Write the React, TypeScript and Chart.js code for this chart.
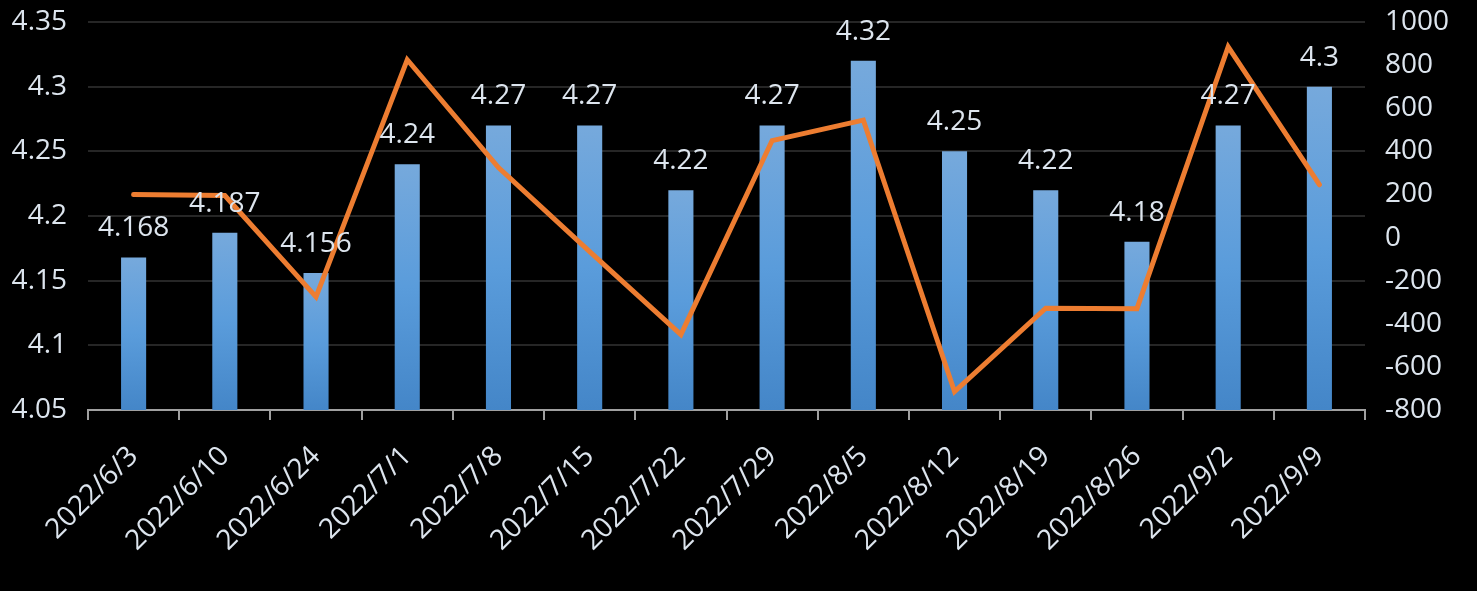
import React, { useEffect, useRef } from "react";
import { Chart, registerables } from "chart.js";

Chart.register(...registerables);

const categories = [
  "2022/6/3", "2022/6/10", "2022/6/24", "2022/7/1", "2022/7/8", "2022/7/15", "2022/7/22",
  "2022/7/29", "2022/8/5", "2022/8/12", "2022/8/19", "2022/8/26", "2022/9/2", "2022/9/9",
];
const barValues = [4.168, 4.187, 4.156, 4.24, 4.27, 4.27, 4.22, 4.27, 4.32, 4.25, 4.22, 4.18, 4.27, 4.3];
const lineValues = [200, 195, -275, 825, 325, -65, -450, 450, 545, -715, -328, -330, 885, 245];
const barLabels = ["4.168", "4.187", "4.156", "4.24", "4.27", "4.27", "4.22", "4.27", "4.32", "4.25", "4.22", "4.18", "4.27", "4.3"];

const TEXT = "#dde5ee";
const FONT = "'Open Sans', 'Noto Sans', sans-serif";

const barLabelPlugin = {
  id: "barLabels",
  afterDatasetsDraw(chart: any) {
    const meta = chart.getDatasetMeta(0);
    const ctx = chart.ctx;
    ctx.save();
    ctx.fillStyle = TEXT;
    ctx.font = `28px ${FONT}`;
    ctx.textAlign = "center";
    ctx.textBaseline = "alphabetic";
    meta.data.forEach((el: any, i: number) => {
      ctx.fillText(barLabels[i], el.x, el.y - 21);
    });
    ctx.restore();
  },
};

export default function App() {
  const ref = useRef<HTMLCanvasElement>(null);
  useEffect(() => {
    if (!ref.current) return;
    const chart = new Chart(ref.current, {
      type: "bar",
      data: {
        labels: categories,
        datasets: [
          {
            type: "bar",
            data: barValues,
            yAxisID: "y",
            order: 1,
            barPercentage: 0.275,
            categoryPercentage: 1,
            backgroundColor: (c: any) => {
              const ch = c.chart;
              const area = ch.chartArea;
              if (!area || c.dataIndex === undefined) return "#5b9bd5";
              const y = ch.scales.y;
              const top = y.getPixelForValue(barValues[c.dataIndex]);
              const bottom = area.bottom;
              const g = ch.ctx.createLinearGradient(0, top, 0, bottom);
              g.addColorStop(0, "#76a9dc");
              g.addColorStop(0.5, "#5a9cdb");
              g.addColorStop(1, "#4486c8");
              return g;
            },
          } as any,
          {
            type: "line",
            data: lineValues,
            yAxisID: "y1",
            order: 0,
            borderColor: "#ed7d31",
            borderWidth: 5,
            pointRadius: 0,
            tension: 0,
            borderJoinStyle: "miter",
            borderCapStyle: "round",
          } as any,
        ],
      },
      options: {
        animation: false,
        responsive: true,
        maintainAspectRatio: false,
        layout: { padding: { top: 22, left: 0, right: 0, bottom: 0 } },
        plugins: { legend: { display: false }, tooltip: { enabled: false } },
        scales: {
          x: {
            offset: true,
            grid: {
              offset: true,
              drawOnChartArea: false,
              drawTicks: true,
              tickLength: 10,
              color: "#a0a0a0",
              lineWidth: 2,
            },
            border: { display: true, color: "#a0a0a0", width: 2 },
            ticks: {
              color: TEXT,
              font: { family: FONT, size: 28 },
              minRotation: 45,
              maxRotation: 45,
              padding: 20,
              autoSkip: false,
            },
            afterFit: (s: any) => { s.height = 181; s.paddingLeft = 0; s.paddingRight = 0; },
          },
          y: {
            position: "left",
            min: 4.05,
            max: 4.35,
            ticks: {
              stepSize: 0.05,
              color: TEXT,
              font: { family: FONT, size: 28 },
              padding: 21,
              callback: (v: any) => String(+Number(v).toFixed(2)),
            },
            grid: { color: "#262626", lineWidth: 2, drawTicks: false },
            border: { display: false },
            afterFit: (s: any) => { s.width = 88; s.paddingTop = 0; s.paddingBottom = 0; },
          },
          y1: {
            position: "right",
            min: -800,
            max: 1000,
            ticks: {
              stepSize: 200,
              color: TEXT,
              font: { family: FONT, size: 28 },
              padding: 20,
              callback: (v: any) => String(Math.round(Number(v))),
            },
            grid: { display: false, drawTicks: false },
            border: { display: false },
            afterFit: (s: any) => { s.width = 112; s.paddingTop = 0; s.paddingBottom = 0; },
          },
        },
      },
      plugins: [barLabelPlugin],
    });
    return () => chart.destroy();
  }, []);
  return (
    <div style={{ position: "fixed", left: 0, top: 0, width: 1477, height: 591, background: "#000" }}>
      <canvas ref={ref} />
    </div>
  );
}
